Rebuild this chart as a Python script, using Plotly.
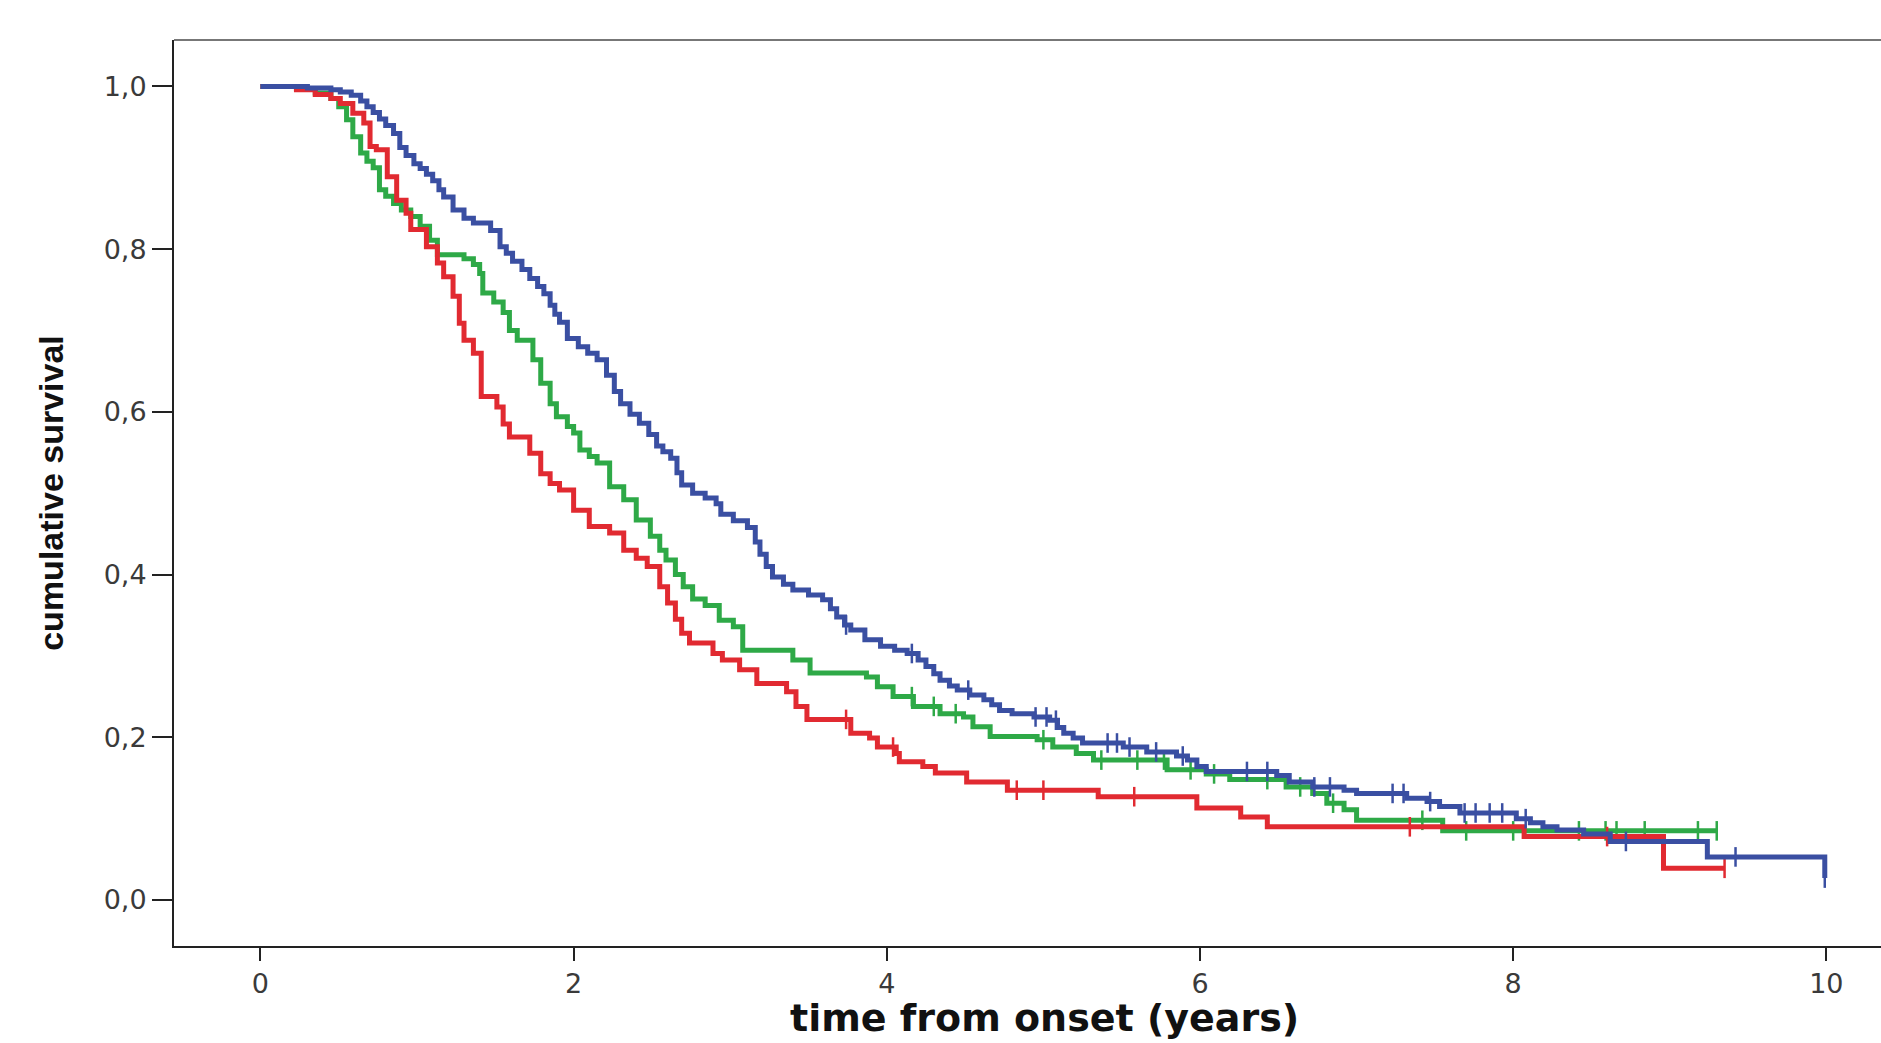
import numpy as np
import plotly.graph_objects as go

# Kaplan-Meier step knots: time (years) and cumulative survival from that time on
blue_t = [0, 0.30, 0.45, 0.51, 0.58, 0.64, 0.68, 0.72, 0.76, 0.80, 0.85, 0.89, 0.93, 0.98,
          1.02, 1.06, 1.10, 1.14, 1.17, 1.23, 1.30, 1.36, 1.47, 1.53, 1.57, 1.61, 1.67, 1.72,
          1.77, 1.81, 1.85, 1.88, 1.91, 1.96, 2.03, 2.09, 2.15, 2.21, 2.26, 2.30, 2.36, 2.42,
          2.48, 2.53, 2.57, 2.62, 2.66, 2.69, 2.76, 2.84, 2.91, 2.94, 3.02, 3.11, 3.16, 3.19,
          3.23, 3.27, 3.34, 3.40, 3.50, 3.59, 3.64, 3.68, 3.73, 3.77, 3.86, 3.96, 4.05, 4.13,
          4.20, 4.25, 4.30, 4.34, 4.40, 4.45, 4.53, 4.62, 4.67, 4.72, 4.80, 4.94, 5.04, 5.09,
          5.13, 5.19, 5.25, 5.51, 5.66, 5.85, 5.92, 5.98, 6.04, 6.49, 6.57, 6.72, 6.92, 7.00,
          7.32, 7.45, 7.53, 7.66, 8.02, 8.11, 8.19, 8.28, 8.45, 8.62, 9.24, 9.99]
blue_s = [1.0, 0.998, 0.996, 0.993, 0.989, 0.982, 0.975, 0.968, 0.960, 0.952, 0.942, 0.925,
          0.915, 0.905, 0.899, 0.892, 0.884, 0.873, 0.864, 0.848, 0.838, 0.832, 0.823, 0.803,
          0.795, 0.785, 0.775, 0.764, 0.754, 0.745, 0.731, 0.720, 0.710, 0.690, 0.680, 0.672,
          0.664, 0.645, 0.625, 0.610, 0.597, 0.586, 0.572, 0.558, 0.551, 0.543, 0.525, 0.510,
          0.500, 0.494, 0.487, 0.474, 0.466, 0.458, 0.440, 0.425, 0.410, 0.397, 0.388, 0.381,
          0.375, 0.369, 0.358, 0.348, 0.338, 0.332, 0.320, 0.312, 0.307, 0.303, 0.295, 0.287,
          0.278, 0.270, 0.263, 0.258, 0.252, 0.246, 0.240, 0.233, 0.229, 0.225, 0.221, 0.212,
          0.205, 0.199, 0.193, 0.188, 0.182, 0.177, 0.172, 0.164, 0.158, 0.153, 0.145, 0.139,
          0.135, 0.131, 0.125, 0.121, 0.115, 0.107, 0.100, 0.095, 0.090, 0.086, 0.081, 0.072,
          0.053, 0.027]
blue_end = 9.99
blue_censor = [3.74, 4.16, 4.52, 4.95, 5.02, 5.08, 5.41, 5.47, 5.55, 5.72, 5.89, 6.30, 6.43,
               6.73, 6.83, 7.23, 7.30, 7.47, 7.69, 7.76, 7.85, 7.93, 8.08, 8.72, 9.42, 9.99]

green_t = [0, 0.23, 0.35, 0.45, 0.50, 0.55, 0.59, 0.64, 0.68, 0.72, 0.76, 0.80, 0.85, 0.90,
           0.96, 1.02, 1.08, 1.13, 1.30, 1.36, 1.40, 1.42, 1.49, 1.55, 1.59, 1.64, 1.74, 1.79,
           1.85, 1.89, 1.96, 2.00, 2.04, 2.10, 2.15, 2.23, 2.32, 2.40, 2.49, 2.55, 2.59, 2.65,
           2.70, 2.76, 2.84, 2.93, 3.02, 3.08, 3.40, 3.51, 3.87, 3.94, 4.04, 4.17, 4.34, 4.49,
           4.55, 4.66, 4.96, 5.06, 5.21, 5.32, 5.79, 6.04, 6.19, 6.55, 6.72, 6.81, 6.92, 7.00,
           7.55]
green_s = [1.0, 0.997, 0.992, 0.985, 0.975, 0.959, 0.938, 0.918, 0.908, 0.900, 0.873, 0.865,
           0.856, 0.848, 0.840, 0.828, 0.811, 0.793, 0.788, 0.781, 0.770, 0.746, 0.735, 0.722,
           0.700, 0.688, 0.664, 0.635, 0.610, 0.594, 0.582, 0.574, 0.553, 0.545, 0.537, 0.508,
           0.492, 0.467, 0.447, 0.430, 0.418, 0.400, 0.385, 0.370, 0.362, 0.344, 0.336, 0.307,
           0.295, 0.279, 0.274, 0.262, 0.250, 0.238, 0.229, 0.225, 0.213, 0.201, 0.197, 0.188,
           0.180, 0.172, 0.160, 0.155, 0.148, 0.139, 0.131, 0.119, 0.111, 0.098, 0.085]
green_end = 9.30
green_censor = [4.16, 4.30, 4.44, 5.00, 5.37, 5.60, 5.77, 5.94, 6.09, 6.43, 6.64, 6.85, 7.42,
                7.70, 8.00, 8.42, 8.59, 8.66, 8.84, 9.18, 9.30]

red_t = [0, 0.23, 0.35, 0.45, 0.51, 0.59, 0.66, 0.70, 0.74, 0.81, 0.87, 0.93, 0.96, 1.06,
         1.13, 1.17, 1.23, 1.27, 1.30, 1.36, 1.41, 1.51, 1.55, 1.59, 1.72, 1.79, 1.85, 1.91,
         2.00, 2.10, 2.23, 2.32, 2.40, 2.47, 2.55, 2.60, 2.65, 2.69, 2.74, 2.89, 2.95, 3.06,
         3.17, 3.36, 3.42, 3.49, 3.77, 3.89, 3.94, 4.06, 4.08, 4.23, 4.31, 4.51, 4.77, 5.35,
         5.98, 6.26, 6.43, 8.07, 8.96]
red_s = [1.0, 0.996, 0.990, 0.985, 0.979, 0.967, 0.955, 0.926, 0.922, 0.889, 0.860, 0.844,
         0.824, 0.803, 0.783, 0.766, 0.742, 0.709, 0.688, 0.672, 0.619, 0.606, 0.585, 0.569,
         0.549, 0.524, 0.512, 0.504, 0.479, 0.459, 0.451, 0.430, 0.420, 0.410, 0.385, 0.365,
         0.345, 0.328, 0.316, 0.303, 0.295, 0.283, 0.266, 0.256, 0.238, 0.222, 0.205, 0.199,
         0.188, 0.180, 0.170, 0.164, 0.156, 0.145, 0.135, 0.127, 0.113, 0.102, 0.090, 0.078,
         0.039]
red_end = 9.35
red_censor = [3.74, 4.04, 4.83, 5.00, 5.58, 7.34, 8.60, 9.35]

y_ticks = [0.0, 0.2, 0.4, 0.6, 0.8, 1.0]
x_ticks = [0, 2, 4, 6, 8, 10]

groups = [
    ("green", green_t, green_s, green_end, green_censor, "#2EA947"),
    ("red", red_t, red_s, red_end, red_censor, "#E12A31"),
    ("blue", blue_t, blue_s, blue_end, blue_censor, "#3A4FA2"),
]

fig = go.Figure()
for name, t, s, end, cens, color in groups:
    xs = list(t) + [end]
    ys = list(s) + [s[-1]]
    fig.add_trace(go.Scatter(
        x=xs, y=ys, mode="lines", name=name,
        line=dict(shape="hv", color=color, width=5),
        showlegend=False,
    ))
    # censored cases drawn as small vertical ticks on the curve
    idx = np.searchsorted(np.array(t), np.array(cens), side="right") - 1
    fig.add_trace(go.Scatter(
        x=cens, y=np.array(s)[idx], mode="markers", name=name + " censored",
        marker=dict(symbol="line-ns", size=14, line=dict(color=color, width=2.5)),
        showlegend=False,
    ))

tick_font = dict(family="DejaVu Sans", size=27, color="#3a3a3a")

fig.update_layout(
    width=1881,
    height=1043,
    margin=dict(l=174, r=0, t=40, b=97),
    plot_bgcolor="white",
    paper_bgcolor="white",
    separators=", ",
    xaxis=dict(
        range=[-0.552, 10.349],
        tickvals=x_ticks,
        ticks="outside", ticklen=13, tickwidth=2, tickcolor="#222222",
        showline=True, linecolor="#222222", linewidth=2,
        showgrid=False, zeroline=False, automargin=False,
        tickfont=tick_font,
    ),
    yaxis=dict(
        range=[-0.0565, 1.057],
        tickvals=y_ticks,
        tickformat=".1f",
        ticks="outside", ticklen=20, tickwidth=2, tickcolor="#222222",
        showline=True, linecolor="#222222", linewidth=2,
        showgrid=False, zeroline=False, automargin=False,
        tickfont=tick_font,
        title=dict(text="cumulative survival", standoff=30,
                   font=dict(family="Liberation Sans, Arial", size=34,
                             color="#111111", weight="bold")),
    ),
    shapes=[dict(type="line", xref="paper", yref="paper", x0=0, x1=1, y0=1, y1=1,
                 line=dict(color="#777777", width=2))],
    annotations=[dict(
        text="time from onset (years)", xref="paper", yref="paper",
        x=0.5097, y=-0.079, xanchor="center", yanchor="middle", showarrow=False,
        font=dict(family="DejaVu Sans", size=38, color="#111111", weight="bold"),
    )],
)

fig.write_html("out.html", config={"displayModeBar": False},
               post_script="document.body.style.margin='0';")
